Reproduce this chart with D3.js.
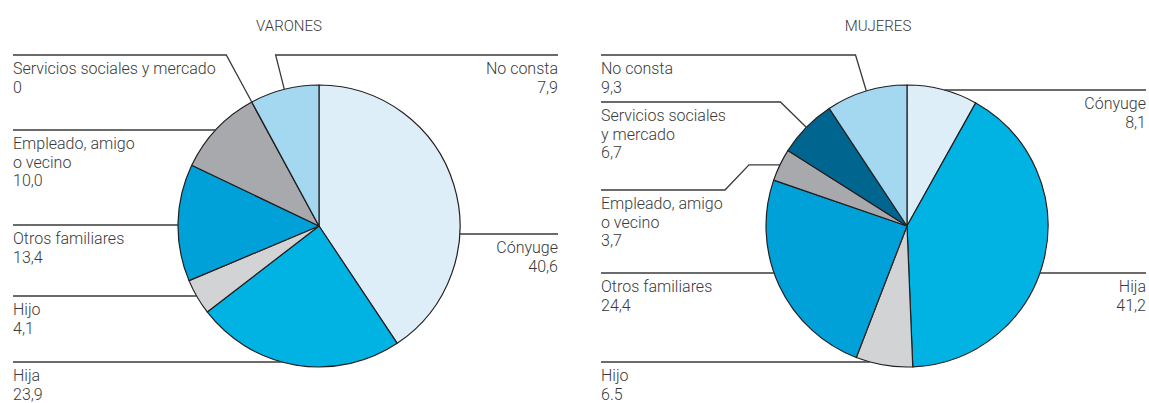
<!DOCTYPE html>
<html><head><meta charset="utf-8">
<script src="https://cdn.jsdelivr.net/npm/d3@7"></script>
<style>
body{margin:0;background:#fff;}
text{font-family:Roboto,"Liberation Sans",sans-serif;font-weight:300;fill:#3a3a3a;}
</style></head>
<body><svg id="c" width="1149" height="403"></svg>
<script>
// ---- data ----
const categories = ["Cónyuge","Hija","Hijo","Otros familiares","Empleado, amigo o vecino","Servicios sociales y mercado","No consta"];
const varonesValues = [40.6,23.9,4.1,13.4,10.0,0,7.9];
const mujeresValues = [8.1,41.2,6.5,24.4,3.7,6.7,9.3];
const varonesValueLabels = ["40,6","23,9","4,1","13,4","10,0","0","7,9"];
const mujeresValueLabels = ["8,1","41,2","6.5","24,4","3,7","6,7","9,3"];
const varonesNameLines = [["Cónyuge"],["Hija"],["Hijo"],["Otros familiares"],["Empleado, amigo","o vecino"],["Servicios sociales y mercado"],["No consta"]];
const mujeresNameLines = [["Cónyuge"],["Hija"],["Hijo"],["Otros familiares"],["Empleado, amigo","o vecino"],["Servicios sociales","y mercado"],["No consta"]];
const titles = ["VARONES","MUJERES"];
const colors = ["#ddeef9","#00b3e3","#d1d3d5","#00a0d9","#a7a9ac","#00658f","#a3d8f0"];

// ---- layout ----
const R = 141;
const charts = [
  {title:titles[0], values:varonesValues, vlabels:varonesValueLabels, names:varonesNameLines,
   cx:319, cy:226, titleX:289, leftX:13, rightX:558,
   // per category: side, line y, type (h = horizontal to rim, r = radial from slice middle)
   lab:[{s:"R",y:234,t:"h"},{s:"L",y:362,t:"h"},{s:"L",y:296,t:"h"},{s:"L",y:225,t:"h"},
        {s:"L",y:130,t:"h"},{s:"L",y:55,t:"r"},{s:"R",y:55,t:"r"}]},
  {title:titles[1], values:mujeresValues, vlabels:mujeresValueLabels, names:mujeresNameLines,
   cx:907, cy:226, titleX:878, leftX:601, rightX:1146,
   lab:[{s:"R",y:90,t:"h"},{s:"R",y:273,t:"h"},{s:"L",y:362,t:"h"},{s:"L",y:273,t:"h"},
        {s:"L",y:190,t:"e",kx:749,dx:24},{s:"L",y:102,t:"r"},{s:"L",y:55,t:"r"}]}
];

const svg = d3.select("#c");
const pie = d3.pie().sort(null).value(d=>d);
const arc = d3.arc().innerRadius(0).outerRadius(R);

charts.forEach(ch=>{
  const g = svg.append("g");
  g.append("text").attr("x",ch.titleX).attr("y",31).attr("text-anchor","middle")
    .style("font-size","15px").text(ch.title);

  const arcs = pie(ch.values);
  const pg = g.append("g").attr("transform",`translate(${ch.cx},${ch.cy})`);

  arcs.forEach((a,i)=>{
    const L = ch.lab[i];
    const mid = (a.startAngle+a.endAngle)/2;
    let pts;
    const xEnd = L.s==="L" ? ch.leftX : ch.rightX;
    if(L.t==="h"){
      const dy = L.y-ch.cy;
      const dx = Math.sqrt(Math.max(0,R*R-dy*dy));
      const xr = L.s==="L" ? ch.cx-dx : ch.cx+dx;
      pts=[[xEnd,L.y],[xr,L.y]];
    } else if(L.t==="r"){
      const ex = ch.cx+R*Math.sin(mid), ey = ch.cy-R*Math.cos(mid);
      const k = (L.y-ey)/(-Math.cos(mid));
      const kx = ex + k*Math.sin(mid);
      pts=[[xEnd,L.y],[kx,L.y],[ex,ey]];
    } else {
      const ex = ch.cx+R*Math.sin(mid), ey = ch.cy-R*Math.cos(mid);
      pts=[[xEnd,L.y],[L.kx-L.dx,L.y],[L.kx,ey],[ex,ey]];
    }
    g.append("path").attr("d",d3.line()(pts)).attr("fill","none")
      .attr("stroke","#3a3a3a").attr("stroke-width",1.3);

    const lines = ch.names[i].concat([ch.vlabels[i]]);
    const t = g.append("text").attr("text-anchor",L.s==="L"?"start":"end")
      .style("font-size","16px");
    lines.forEach((ln,j)=>{
      t.append("tspan").attr("x",xEnd).attr("y",L.y+19+j*18.6).text(ln);
    });
  });

  pg.selectAll("path.s").data(arcs).join("path").attr("class","s")
    .attr("d",arc).attr("fill",(d,i)=>colors[i])
    .attr("stroke","#231f20").attr("stroke-width",1.2).attr("stroke-linejoin","round");
});
</script></body></html>
